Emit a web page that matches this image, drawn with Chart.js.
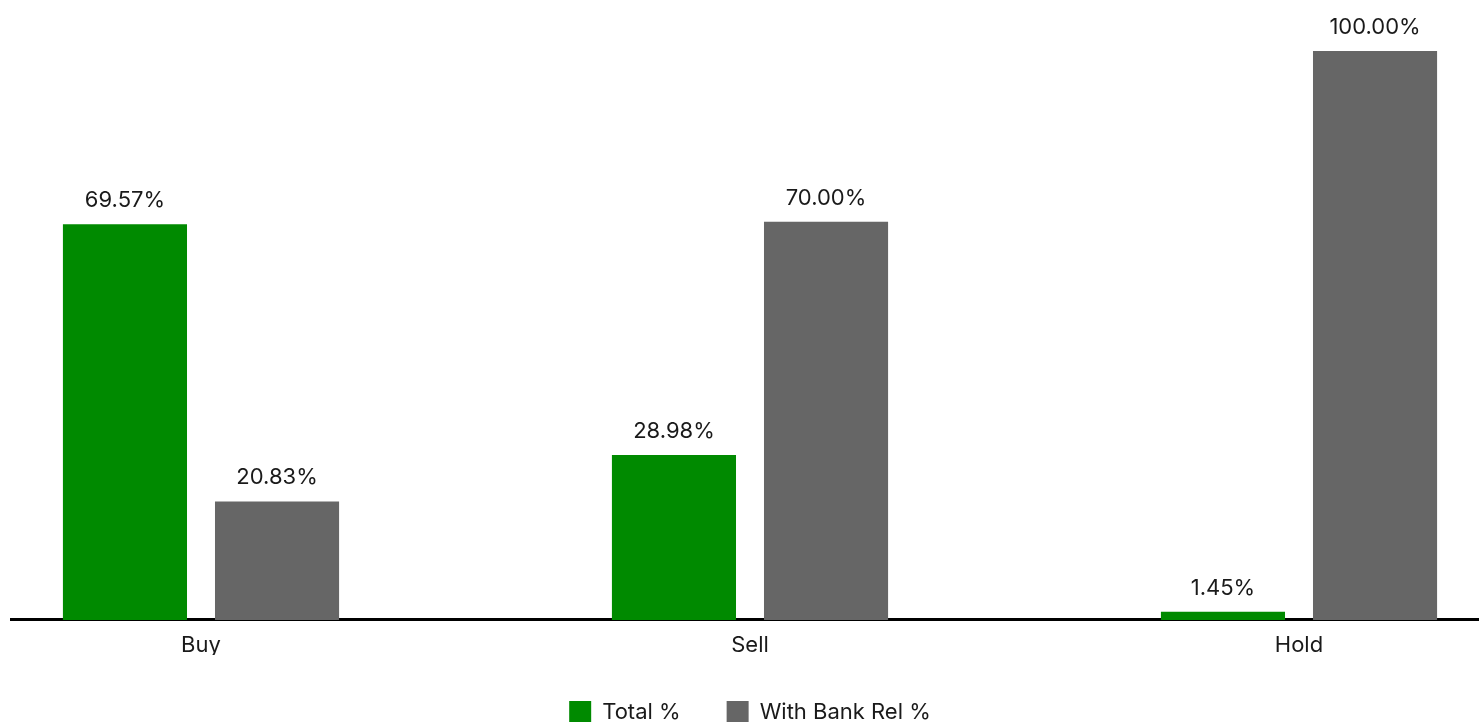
<!DOCTYPE html>
<html>
<head>
<meta charset="utf-8">
<title>Buy / Sell / Hold</title>
<script src="https://cdn.jsdelivr.net/npm/chart.js@4.4.1/dist/chart.umd.min.js"></script>
<style>
    html, body { margin: 0; padding: 0; background: #fff; overflow: hidden; }
    #wrap { position: relative; width: 1479px; height: 733px; }
</style>
</head>
<body>
<div id="wrap"><canvas id="myChart"></canvas></div>
<script>
// chart data
const categories = ['Buy', 'Sell', 'Hold'];
const totalPct = [69.57, 28.98, 1.45];
const bankRelPct = [20.83, 70.00, 100.00];
const seriesNames = ['Total %', 'With Bank Rel %'];

const FONT = 'Inter, "Noto Sans", sans-serif';

// black base line across the whole width, drawn under the bars
const baseLine = {
    id: 'baseLine',
    beforeDatasetsDraw(chart) {
        const ctx = chart.ctx;
        const y = chart.scales.y.getPixelForValue(0);
        ctx.save();
        ctx.strokeStyle = '#000';
        ctx.lineWidth = 3;
        ctx.beginPath();
        ctx.moveTo(10, y - 0.5);
        ctx.lineTo(chart.width, y - 0.5);
        ctx.stroke();
        ctx.restore();
    }
};

// value labels above each bar
const valueLabels = {
    id: 'valueLabels',
    afterDatasetsDraw(chart) {
        const ctx = chart.ctx;
        ctx.save();
        ctx.font = '22px ' + FONT;
        ctx.fillStyle = '#1a1a1a';
        ctx.textAlign = 'center';
        ctx.textBaseline = 'alphabetic';
        chart.data.datasets.forEach((ds, i) => {
            chart.getDatasetMeta(i).data.forEach((bar, j) => {
                ctx.fillText(ds.data[j].toFixed(2) + '%', bar.x, bar.y - 17);
            });
        });
        ctx.restore();
    }
};

const ctx = document.getElementById('myChart').getContext('2d');
const chart = new Chart(ctx, {
    type: 'bar',
    data: {
        labels: categories,
        datasets: [
            {
                label: seriesNames[0],
                data: totalPct,
                backgroundColor: '#008a00',
                barPercentage: 0.816,
                categoryPercentage: 0.554,
                clip: false,
            },
            {
                label: seriesNames[1],
                data: bankRelPct,
                backgroundColor: '#666666',
                barPercentage: 0.816,
                categoryPercentage: 0.554,
                clip: false,
            }
        ]
    },
    options: {
        responsive: true,
        maintainAspectRatio: false,
        animation: false,
        events: [],
        layout: {
            padding: { top: 51, left: 201, right: 180, bottom: 0 }
        },
        scales: {
            x: {
                offset: false,
                grid: { display: false, drawTicks: false },
                border: { display: false },
                ticks: {
                    padding: 12,
                    color: '#1a1a1a',
                    font: { family: FONT, size: 22 }
                },
                afterFit(scale) {
                    scale.height = 35; // keep legend close to the labels
                }
            },
            y: {
                display: false,
                min: 0,
                max: 100
            }
        },
        plugins: {
            legend: {
                position: 'bottom',
                labels: {
                    boxWidth: 22,
                    boxHeight: 22,
                    padding: 46,
                    color: '#1a1a1a',
                    font: { family: FONT, size: 22 }
                }
            },
            tooltip: { enabled: false }
        }
    },
    plugins: [baseLine, valueLabels]
});
</script>
</body>
</html>
